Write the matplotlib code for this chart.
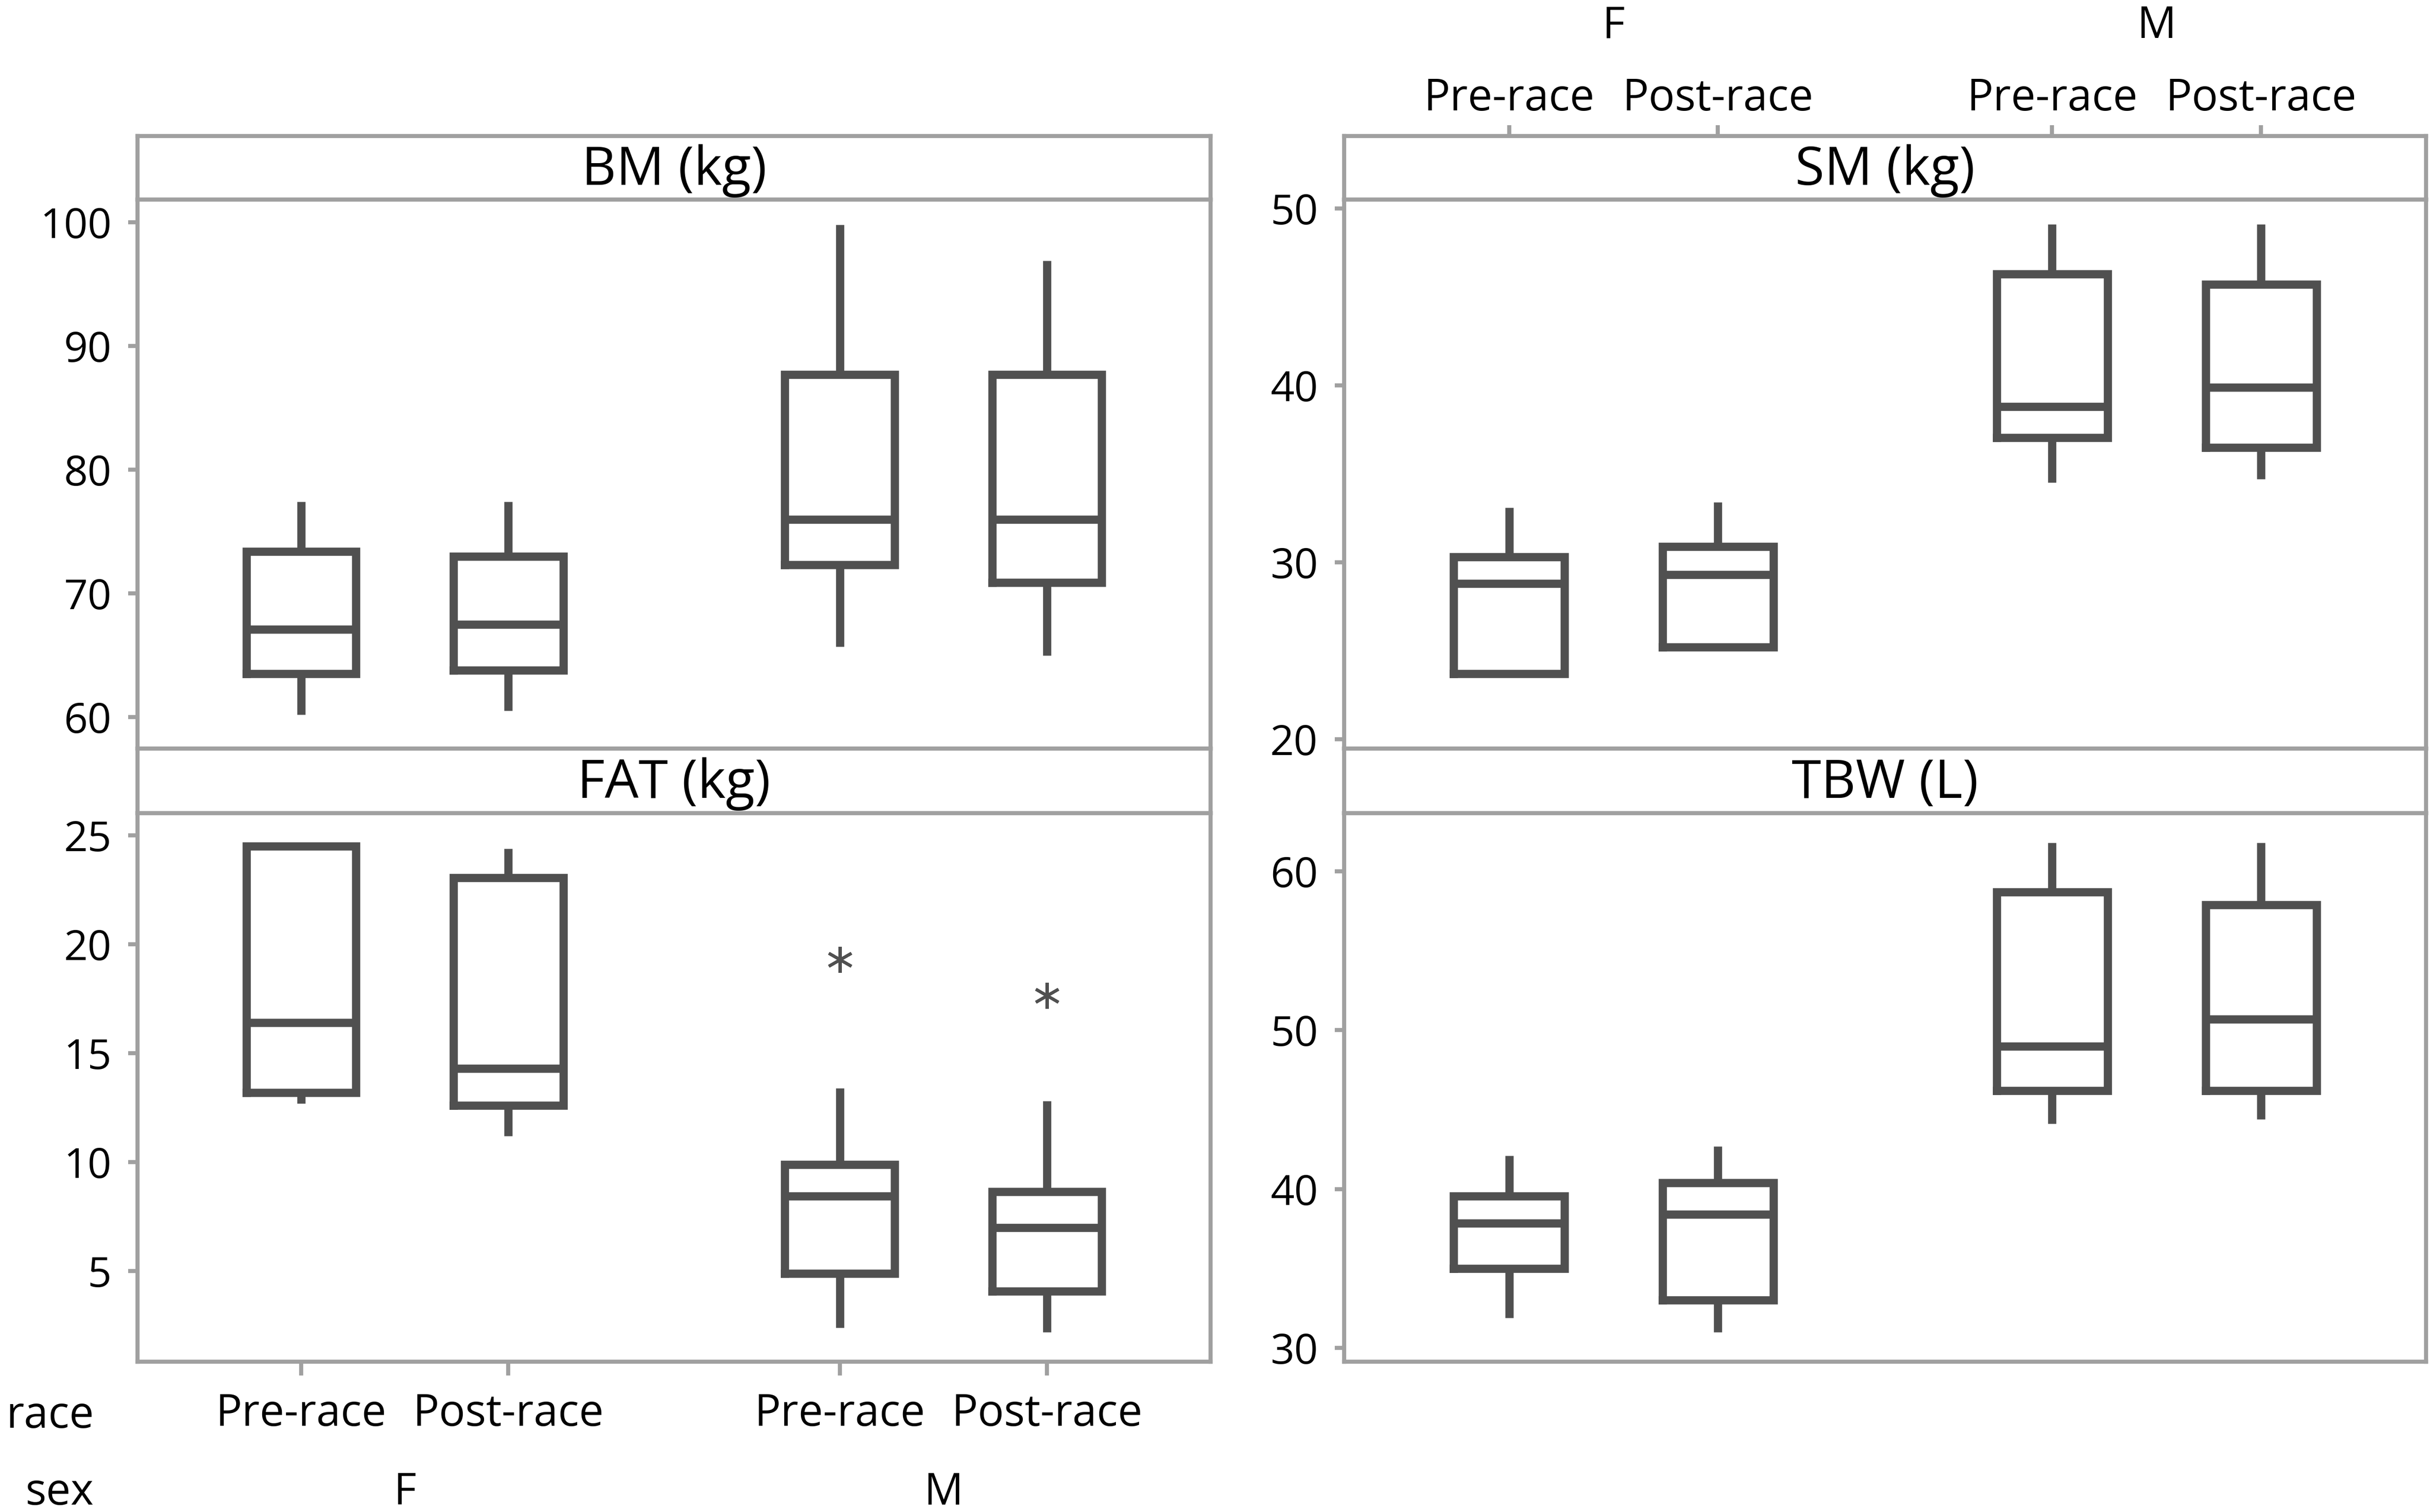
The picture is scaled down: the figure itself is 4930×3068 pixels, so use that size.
import matplotlib
matplotlib.use("Agg")
import matplotlib.pyplot as plt
import matplotlib.transforms as mtransforms

plt.rcParams['font.family'] = ['Open Sans', 'DejaVu Sans']
plt.rcParams['lines.solid_joinstyle'] = 'miter'

# groups along the x axis
race = ["Pre-race", "Post-race", "Pre-race", "Post-race"]
sex = ["F", "F", "M", "M"]
positions = [1, 2, 3.6, 4.6]

# five-number summaries per group: whisker low, Q1, median, Q3, whisker high
bm_stats = [[60.2, 63.5, 67.1, 73.4, 77.4],
            [60.5, 63.8, 67.5, 73.0, 77.4],
            [65.7, 72.3, 76.0, 87.7, 99.8],
            [65.0, 70.9, 76.0, 87.7, 96.9]]
fat_stats = [[12.7, 13.2, 16.4, 24.5, 24.5],
             [11.2, 12.6, 14.3, 23.05, 24.4],
             [2.4, 4.9, 8.45, 9.9, 13.4],
             [2.2, 4.07, 7.0, 8.64, 12.8]]
sm_stats = [[23.7, 23.7, 28.8, 30.3, 33.1],
            [25.2, 25.2, 29.3, 30.9, 33.4],
            [34.5, 37.05, 38.8, 46.3, 49.1],
            [34.7, 36.5, 39.9, 45.7, 49.1]]
tbw_stats = [[31.9, 35.0, 37.85, 39.55, 42.1],
             [31.0, 33.0, 38.4, 40.4, 42.7],
             [44.1, 46.2, 49.0, 58.7, 61.8],
             [44.4, 46.2, 50.7, 57.9, 61.8]]

# outliers
bm_out = [[], [], [], []]
fat_out = [[], [], [19.3], [17.65]]
sm_out = [[], [], [], []]
tbw_out = [[], [], [], []]

FRAME = '#a0a0a0'
BOX = '#505050'
FLW = 3.0
XLIM = (0.21, 5.39)

fig = plt.figure(figsize=(24.65, 15.34), dpi=200)

cols = {'L': (0.0566, 0.4416), 'R': (0.5531, 0.4453)}
rows = {'T': (0.5049, 0.8680, 0.9100), 'B': (0.0994, 0.4622, 0.5049)}


def to_bxp(rows_, fliers):
    return [dict(whislo=r[0], q1=r[1], med=r[2], q3=r[3], whishi=r[4], fliers=f)
            for r, f in zip(rows_, fliers)]


def panel(col, row, title, stats, fliers, ylim, yticks):
    left, width = cols[col]
    bot, mid, top = rows[row]
    hax = fig.add_axes([left, mid, width, top - mid])
    hax.set_xlim(*XLIM)
    hax.set_xticks([])
    hax.set_yticks([])
    for s in hax.spines.values():
        s.set_color(FRAME)
        s.set_linewidth(FLW)
    hax.text(0.5, 0.45, title, ha='center', va='center', fontsize=39,
             transform=hax.transAxes)

    ax = fig.add_axes([left, bot, width, mid - bot])
    ax.bxp(to_bxp(stats, fliers), positions=positions, widths=0.53,
           showcaps=False,
           boxprops=dict(color=BOX, linewidth=6),
           whiskerprops=dict(color=BOX, linewidth=6, solid_capstyle='butt'),
           medianprops=dict(color=BOX, linewidth=6, solid_capstyle='butt'),
           flierprops=dict(marker=(6, 2, 0), markersize=19, markeredgecolor=BOX,
                           markeredgewidth=2.2, linestyle='none'))
    ax.set_xlim(*XLIM)
    ax.set_ylim(*ylim)
    ax.set_yticks(yticks)
    ax.set_yticklabels([str(t) for t in yticks])
    for s in ax.spines.values():
        s.set_color(FRAME)
        s.set_linewidth(FLW)
    ax.tick_params(axis='y', direction='out', length=7, width=FLW, color=FRAME,
                   labelcolor='black', labelsize=30.5, pad=12)
    ax.set_xticks([])
    return hax, ax


_, ax_bm = panel('L', 'T', 'BM (kg)', bm_stats, bm_out, (57.45, 101.85), [60, 70, 80, 90, 100])
_, ax_fat = panel('L', 'B', 'FAT (kg)', fat_stats, fat_out, (0.84, 26.02), [5, 10, 15, 20, 25])
hax_sm, ax_sm = panel('R', 'T', 'SM (kg)', sm_stats, sm_out, (19.47, 50.5), [20, 30, 40, 50])
_, ax_tbw = panel('R', 'B', 'TBW (L)', tbw_stats, tbw_out, (29.13, 63.66), [30, 40, 50, 60])

# categorical labels: bottom of left column, top of right column
ax_fat.set_xticks(positions)
ax_fat.set_xticklabels(race)
ax_fat.tick_params(axis='x', direction='out', length=10, width=FLW, color=FRAME,
                   labelsize=32, pad=12)

hax_sm.xaxis.tick_top()
hax_sm.set_xticks(positions)
hax_sm.set_xticklabels(race)
hax_sm.tick_params(axis='x', direction='out', length=8, width=FLW, color=FRAME,
                   labelsize=32, pad=3)

groups = []
for s in sex:
    if s not in groups:
        groups.append(s)

for ax, ybase in [(ax_fat, 0.0049), (hax_sm, 0.9749)]:
    tr = mtransforms.blended_transform_factory(ax.transData, fig.transFigure)
    for g in groups:
        xs = [p for p, s in zip(positions, sex) if s == g]
        ax.text(sum(xs) / len(xs), ybase, g, ha='center', va='baseline',
                fontsize=32, transform=tr)

fig.text(0.0387, 0.0557, 'race', ha='right', va='baseline', fontsize=32)
fig.text(0.0387, 0.0049, 'sex', ha='right', va='baseline', fontsize=32)

fig.savefig('out.png', dpi=200, facecolor='white')
